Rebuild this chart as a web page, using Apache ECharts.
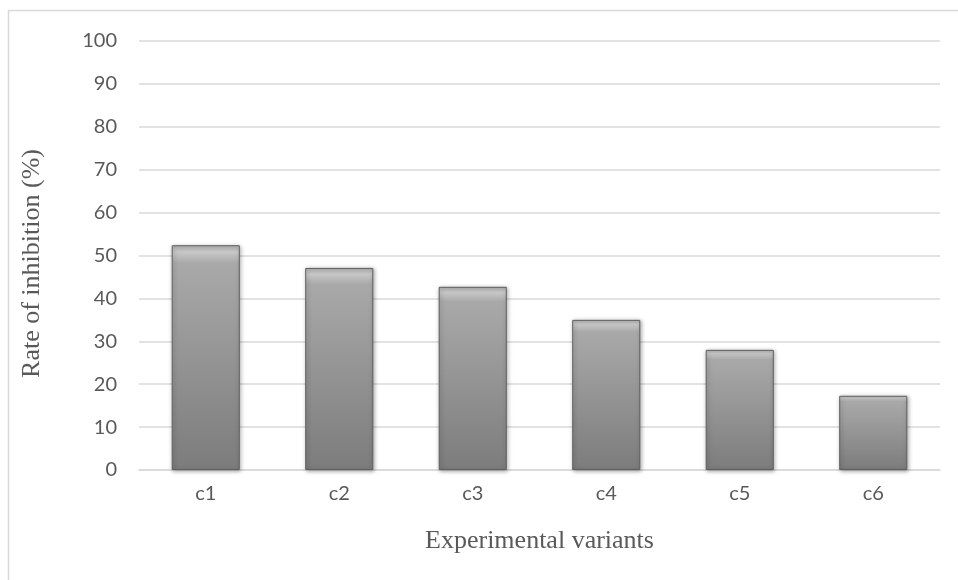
<!DOCTYPE html>
<html><head><meta charset="utf-8">
<script src="https://cdn.jsdelivr.net/npm/echarts@6/dist/echarts.min.js"></script>
<style>html,body{margin:0;padding:0;background:#fff}#c{width:958px;height:580px}</style>
</head><body><div id="c"></div>
<script>
const categories = ['c1','c2','c3','c4','c5','c6'];
const inhibition = [52.4, 47.1, 42.7, 35.0, 28.0, 17.3];
const yTicks = {min:0, max:100, interval:10};

const chart = echarts.init(document.getElementById('c'));
chart.setOption({
  backgroundColor:'#fff',
  animation:false,
  graphic:[{type:'rect',shape:{x:8.5,y:10.5,width:1000,height:1000},style:{fill:'none',stroke:'#d9d9d9',lineWidth:1.5},silent:true}],
  grid:{left:139,right:18,top:41,bottom:110,containLabel:false},
  xAxis:{type:'category',data:categories,
    axisLine:{lineStyle:{color:'#d9d9d9',width:1.5}},axisTick:{show:false},
    axisLabel:{color:'#595959',fontFamily:'Lato, "Open Sans", sans-serif',fontSize:20,margin:14},
    name:'Experimental variants',nameLocation:'middle',nameGap:58,
    nameTextStyle:{color:'#595959',fontFamily:'"Liberation Serif", serif',fontSize:26}},
  yAxis:{type:'value',min:yTicks.min,max:yTicks.max,interval:yTicks.interval,
    axisLine:{show:false},axisTick:{show:false},
    splitLine:{lineStyle:{color:'#d9d9d9',width:1.5}},
    axisLabel:{color:'#595959',fontFamily:'Lato, "Open Sans", sans-serif',fontSize:20,margin:22},
    name:'Rate of inhibition (%)',nameLocation:'middle',nameGap:94,
    nameTextStyle:{color:'#595959',fontFamily:'"Liberation Serif", serif',fontSize:26,padding:[0,16,0,0]}},
  series:[{type:'bar',data:inhibition,barWidth:'51%',
    itemStyle:{
      color:{type:'linear',x:0,y:0,x2:0,y2:1,colorStops:[
        {offset:0,color:'#b2b2b2'},{offset:0.03,color:'#c8c8c8'},{offset:0.08,color:'#a9a9a9'},{offset:1,color:'#7c7c7c'}]},
      borderColor:'#606060',borderWidth:1,
      shadowColor:'rgba(0,0,0,0.35)',shadowBlur:4,shadowOffsetX:1,shadowOffsetY:1}
  }]
});
</script></body></html>
